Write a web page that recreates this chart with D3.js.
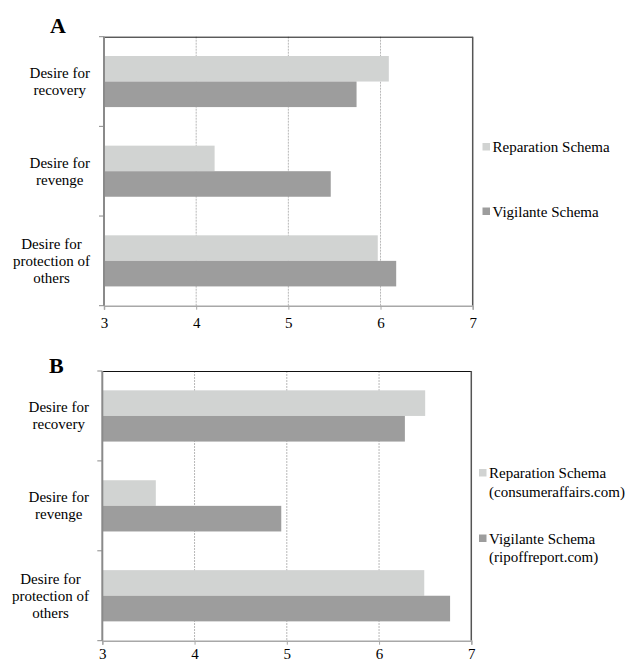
<!DOCTYPE html>
<html><head><meta charset="utf-8">
<script src="https://cdn.jsdelivr.net/npm/d3@7"></script>
</head><body style="margin:0;background:#fff">
<svg id="c" width="630" height="664" font-family="Liberation Serif"></svg>
<script>
const categories = [["Desire for","recovery"],["Desire for","revenge"],["Desire for","protection of","others"]];
const xTicks = [3,4,5,6,7];
const reparationA = [6.09, 4.20, 5.97];
const vigilanteA  = [5.74, 5.46, 6.17];
const reparationB = [6.50, 3.58, 6.49];
const vigilanteB  = [6.28, 4.94, 6.77];
const legendA = [["Reparation Schema"],["Vigilante Schema"]];
const legendB = [["Reparation Schema","(consumeraffairs.com)"],["Vigilante Schema","(ripoffreport.com)"]];
const colors = ["#d1d3d2","#9d9d9d"];
const FONT = "Liberation Serif";

const svg = d3.select("#c");

function panel(cfg){
  const g = svg.append("g");
  const x = d3.scaleLinear().domain([3,7]).range([cfg.left, cfg.right]);
  const y = d3.scaleBand().domain(d3.range(categories.length)).range([cfg.top, cfg.bottom]);
  const inner = d3.scaleBand().domain([0,1]).range([0, y.bandwidth()]).paddingOuter(0.755).paddingInner(0);

  g.selectAll(".grid").data(xTicks.slice(1,-1)).join("line")
    .attr("x1", d=>x(d)).attr("x2", d=>x(d)).attr("y1", cfg.top).attr("y2", cfg.bottom)
    .attr("stroke","#b8b8b8").attr("stroke-width",1).attr("stroke-dasharray","2,1");

  const series = [cfg.rep, cfg.vig];
  series.forEach((vals, si) => {
    g.selectAll(".b"+si).data(vals).join("rect")
      .attr("x", x(3)).attr("y", (d,i)=> y(i) + inner(si))
      .attr("width", d => x(d) - x(3)).attr("height", inner.bandwidth())
      .attr("fill", colors[si]);
  });

  g.append("line").attr("x1",cfg.left).attr("x2",cfg.right).attr("y1",cfg.top+0.5).attr("y2",cfg.top+0.5).attr("stroke","#111").attr("stroke-width",1);
  g.append("line").attr("x1",cfg.right).attr("x2",cfg.right).attr("y1",cfg.top).attr("y2",cfg.bottom).attr("stroke","#555").attr("stroke-width",1.5);

  const xa = g.append("g").attr("transform",`translate(0,${cfg.bottom})`)
    .call(d3.axisBottom(x).tickValues(xTicks).tickSize(4).tickPadding(cfg.tickPad).tickFormat(d3.format("d")));
  xa.attr("font-family", FONT);
  xa.select(".domain").attr("stroke","#a8a8a8").attr("stroke-width",1.5);
  xa.selectAll(".tick line").attr("stroke","#a8a8a8");
  xa.selectAll(".tick text").attr("font-size",15).attr("font-family",FONT).attr("fill","#000");

  const boundaries = d3.range(categories.length+1).map(i => cfg.top + i*y.step());
  g.append("line").attr("x1",cfg.left).attr("x2",cfg.left).attr("y1",cfg.top).attr("y2",cfg.bottom).attr("stroke","#8a8a8a").attr("stroke-width",2);
  g.selectAll(".yt").data(boundaries).join("line")
    .attr("x1",cfg.left-5).attr("x2",cfg.left).attr("y1",d=>d).attr("y2",d=>d).attr("stroke","#8a8a8a").attr("stroke-width",1);

  categories.forEach((lines, i) => {
    const cy = y(i) + y.bandwidth()/2;
    const t = g.append("text").attr("font-size",15).attr("font-family",FONT).attr("text-anchor","middle");
    const lh = 17;
    lines.forEach((ln, j) => {
      t.append("tspan").attr("y", cy - (lines.length-1)*lh/2 + j*lh + 5).text(ln);
    });
    let maxW = 0;
    t.selectAll("tspan").each(function(){ maxW = Math.max(maxW, this.getComputedTextLength()); });
    t.selectAll("tspan").attr("x", cfg.labelRight - maxW/2);
  });

  g.append("text").attr("x", cfg.titleX).attr("y", cfg.titleY).attr("font-size",22).attr("font-family",FONT).attr("font-weight","bold").text(cfg.title);

  cfg.legend.forEach((lines, si) => {
    const cy = cfg.legendY[si];
    g.append("rect").attr("x", cfg.legendX).attr("y", cy-4).attr("width",7.5).attr("height",7.5).attr("fill",colors[si]);
    const t = g.append("text").attr("font-size",15).attr("font-family",FONT);
    lines.forEach((ln,j)=>{
      t.append("tspan").attr("x", cfg.legendX+10).attr("y", cy + 5 + j*18.5).text(ln);
    });
  });
}

panel({title:"A", titleX:50, titleY:33, left:104, right:472.7, top:36.7, bottom:305.7, tickPad:7.5,
  rep:reparationA, vig:vigilanteA, labelRight:90, legend:legendA, legendX:482.5, legendY:[147,211.5]});
panel({title:"B", titleX:49, titleY:373, left:102.3, right:471.3, top:371, bottom:640.7, tickPad:4,
  rep:reparationB, vig:vigilanteB, labelRight:89, legend:legendB, legendX:479, legendY:[473,538.5]});
</script>
</body></html>
